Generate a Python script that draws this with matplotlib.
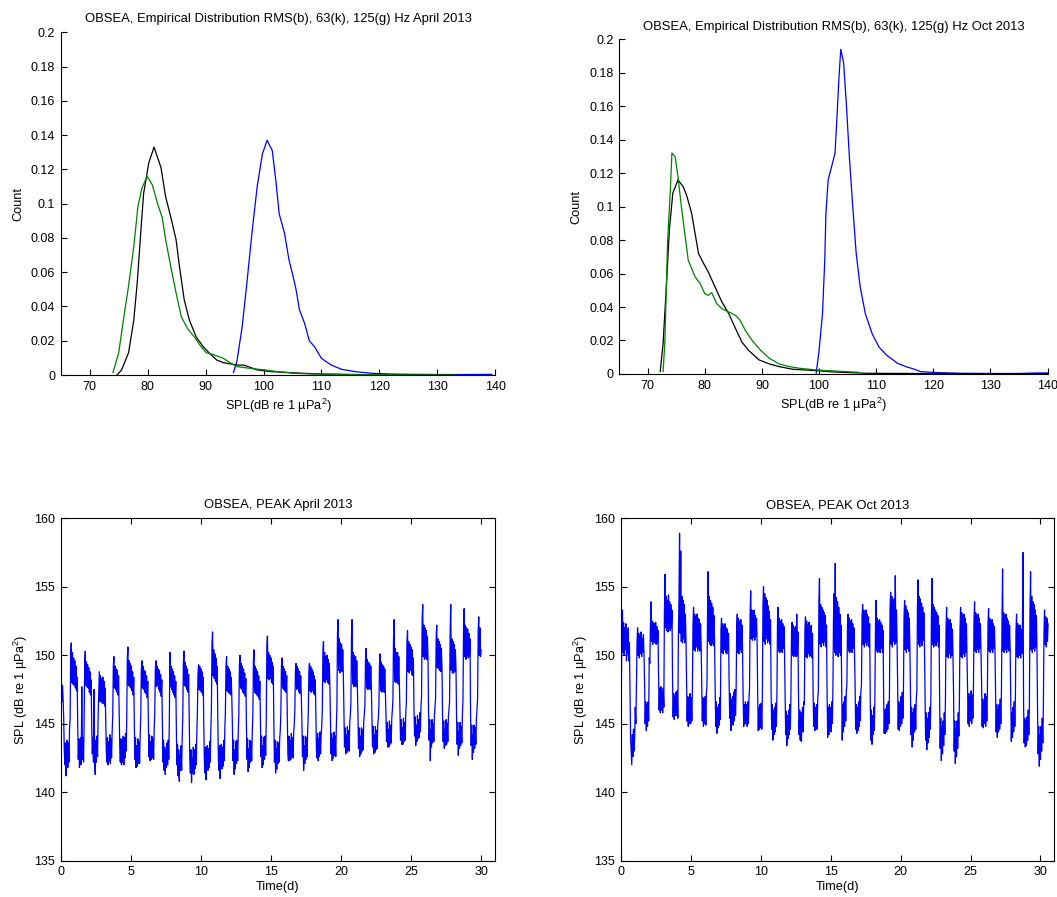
import numpy as np
import matplotlib
matplotlib.use("Agg")
import matplotlib.pyplot as plt
from matplotlib.ticker import FuncFormatter

plt.rcParams['font.family'] = ['Liberation Sans', 'DejaVu Sans']
plt.rcParams['font.size'] = 9
plt.rcParams['mathtext.fontset'] = 'custom'
plt.rcParams['mathtext.rm'] = 'Liberation Sans'
plt.rcParams['mathtext.it'] = 'Liberation Sans:italic'

# ---------------- Empirical distributions (April) ----------------
apr_63_x = [74.7, 75.5, 76.7, 77.6, 78.2, 78.8, 79.3, 80.2, 81.1, 82.3, 83.1, 84.0, 84.9, 85.5, 86.3, 87.2,
            88.4, 89.6, 90.7, 91.9, 93.1, 95.4, 96.6, 98.9, 101.2, 107.0, 110, 115, 120, 125, 133]
apr_63_y = [0, 0.003, 0.013, 0.032, 0.054, 0.083, 0.106, 0.124, 0.133, 0.121, 0.104, 0.092, 0.079, 0.063,
            0.044, 0.032, 0.022, 0.0165, 0.0126, 0.0088, 0.0072, 0.0058, 0.0058, 0.003, 0.002, 0.001, 0.0006,
            0.0003, 0.0002, 0.0001, 0.0]
apr_125_x = [74.0, 75.0, 75.8, 76.7, 77.6, 78.3, 79.0, 79.9, 80.8, 81.7, 82.5, 83.1, 84.0, 84.9, 85.8, 86.9,
             88.1, 89.0, 90.1, 91.3, 93.1, 94.2, 95.4, 97.7, 100.1, 102.4, 105.3, 108.2, 115, 120, 125, 133]
apr_125_y = [0.0014, 0.013, 0.032, 0.052, 0.075, 0.098, 0.109, 0.116, 0.111, 0.100, 0.092, 0.079, 0.063,
             0.048, 0.034, 0.027, 0.022, 0.0175, 0.013, 0.012, 0.0097, 0.0072, 0.0049, 0.0039, 0.003, 0.002,
             0.001, 0.0006, 0.0003, 0.0002, 0.0001, 0.0]
apr_rms_x = [94.8, 95.4, 96.3, 97.1, 98.0, 98.9, 99.8, 100.6, 101.5, 102.1, 102.7, 103.6, 104.4, 105.0, 105.6,
             106.2, 107.1, 107.9, 108.8, 110.0, 111.7, 113.5, 115.8, 118.7, 122, 126, 130, 135, 139.4]
apr_rms_y = [0.0014, 0.008, 0.028, 0.053, 0.083, 0.110, 0.129, 0.137, 0.131, 0.114, 0.094, 0.083, 0.067,
             0.059, 0.050, 0.038, 0.030, 0.020, 0.0165, 0.0097, 0.0058, 0.0033, 0.002, 0.001, 0.0006, 0.0004,
             0.0003, 0.0003, 0.0004]

# ---------------- Empirical distributions (October) ----------------
oct_63_x = [72.2, 72.7, 73.3, 73.8, 74.4, 75.3, 76.2, 76.8, 77.7, 78.3, 78.9, 79.8, 80.6, 81.8, 83.0, 84.2,
            85.4, 86.5, 87.7, 89.5, 91.3, 93.0, 95.4, 99.5, 102.5, 108.4, 115, 125, 140]
oct_63_y = [0.0014, 0.018, 0.054, 0.086, 0.108, 0.116, 0.112, 0.107, 0.096, 0.084, 0.072, 0.066, 0.061, 0.052,
            0.043, 0.036, 0.027, 0.019, 0.014, 0.0084, 0.006, 0.0044, 0.0028, 0.002, 0.0012, 0.0004, 0.0003,
            0.0002, 0.0001]
oct_125_x = [72.7, 73.0, 73.5, 74.0, 74.25, 74.8, 75.3, 75.9, 76.5, 77.1, 78.3, 79.2, 80.0, 80.6, 81.2, 82.1,
             83.0, 84.2, 85.4, 86.2, 87.1, 88.3, 89.8, 91.3, 93.0, 94.8, 96.6, 99.5, 102.5, 106.9]
oct_125_y = [0.0014, 0.018, 0.080, 0.112, 0.132, 0.130, 0.118, 0.100, 0.084, 0.068, 0.058, 0.054, 0.048, 0.047,
             0.0486, 0.042, 0.039, 0.037, 0.035, 0.032, 0.026, 0.020, 0.014, 0.0094, 0.006, 0.0044, 0.0034,
             0.0024, 0.0018, 0.001]
oct_rms_x = [99.5, 100.0, 100.6, 101.0, 101.2, 101.6, 102.2, 102.8, 103.2, 103.5, 103.8, 104.3, 104.8, 105.3,
             105.9, 106.5, 107.2, 108.1, 109.3, 110.5, 111.9, 112.8, 113.7, 115.2, 116.7, 117.8, 120.8, 125, 130,
             135, 138, 140]
oct_rms_y = [0.0004, 0.014, 0.036, 0.068, 0.096, 0.116, 0.124, 0.132, 0.158, 0.178, 0.194, 0.186, 0.160, 0.130,
             0.100, 0.072, 0.052, 0.036, 0.024, 0.016, 0.011, 0.0088, 0.0064, 0.0044, 0.0028, 0.0014, 0.0008,
             0.0004, 0.0003, 0.0003, 0.0006, 0.0006]

# ---------------- Hourly PEAK SPL, April 2013 (one row per day, hours 0..23) ----------------
april_peak_days = [
    [146.4, 147.9, 146.6, 147.8, 146.8, 145.4, 143.0, 142.0, 143.6, 141.2, 143.0, 143.8, 141.8, 143.6, 142.2, 144.6, 145.4, 150.2, 150.9, 148.0, 150.2, 147.9, 149.8, 147.8],
    [149.6, 147.6, 149.2, 147.4, 148.4, 145.0, 142.4, 143.9, 141.8, 143.4, 144.0, 142.0, 147.7, 142.4, 144.0, 142.2, 145.2, 149.6, 150.3, 147.8, 149.5, 147.7, 149.3, 147.6],
    [149.1, 147.3, 148.8, 147.1, 148.2, 144.8, 142.8, 144.0, 142.2, 147.5, 142.4, 141.3, 143.8, 142.2, 144.1, 142.6, 145.6, 147.2, 148.8, 146.6, 148.5, 146.7, 148.3, 146.5],
    [148.4, 146.5, 148.1, 146.3, 147.6, 145.2, 143.0, 142.2, 144.0, 142.0, 143.7, 142.3, 144.2, 142.1, 143.9, 142.5, 144.4, 145.6, 149.2, 149.9, 147.6, 149.2, 147.5, 149.0],
    [147.3, 148.9, 147.1, 148.5, 146.0, 143.3, 142.2, 143.9, 142.0, 143.8, 142.2, 144.1, 142.0, 144.0, 142.5, 144.3, 143.0, 145.4, 149.8, 150.6, 147.8, 149.6, 147.7, 149.4],
    [147.6, 149.2, 147.4, 148.8, 147.1, 148.4, 145.0, 142.4, 144.0, 141.8, 143.4, 141.9, 143.9, 142.1, 143.7, 142.1, 144.2, 145.6, 148.9, 149.6, 147.6, 149.2, 147.5, 148.9],
    [147.3, 148.8, 147.2, 148.5, 146.9, 148.1, 145.2, 142.6, 144.2, 142.3, 143.7, 142.4, 144.1, 142.5, 143.9, 142.4, 144.6, 145.8, 149.0, 149.6, 147.7, 149.2, 147.8, 149.0],
    [147.5, 148.9, 147.3, 148.6, 147.0, 148.2, 144.9, 142.2, 143.8, 141.6, 143.3, 141.3, 143.1, 141.8, 143.6, 142.0, 143.8, 142.4, 145.4, 150.2, 147.7, 149.2, 147.5, 149.0],
    [147.3, 148.8, 147.1, 148.5, 146.9, 148.1, 144.6, 142.0, 143.5, 141.2, 143.1, 140.8, 142.7, 141.6, 143.4, 141.6, 144.0, 145.6, 149.4, 150.3, 147.8, 149.5, 147.7, 149.2],
    [147.5, 149.0, 147.3, 148.6, 145.4, 142.4, 141.4, 143.1, 140.7, 142.5, 141.4, 143.3, 141.3, 143.1, 141.7, 143.5, 142.0, 144.2, 145.8, 148.6, 149.3, 147.5, 149.2, 147.4],
    [149.0, 147.3, 148.8, 147.1, 148.4, 144.8, 142.2, 141.4, 143.3, 140.9, 142.9, 143.4, 141.6, 143.2, 141.8, 143.7, 142.2, 144.4, 146.0, 150.8, 151.7, 148.5, 150.4, 148.3],
    [150.1, 148.1, 149.8, 147.9, 149.2, 145.2, 142.4, 141.6, 143.4, 141.0, 143.0, 143.5, 141.7, 143.3, 141.9, 143.8, 142.3, 144.6, 145.9, 149.2, 149.9, 147.4, 149.2, 147.3],
    [149.0, 147.2, 148.8, 147.1, 148.4, 146.9, 144.8, 142.3, 143.8, 141.3, 143.1, 141.7, 143.7, 142.1, 143.8, 142.3, 144.3, 145.7, 149.3, 150.0, 147.6, 149.4, 147.5, 149.2],
    [147.3, 149.0, 147.2, 148.7, 147.0, 148.3, 145.0, 142.4, 143.9, 141.5, 143.2, 141.8, 143.8, 142.2, 143.7, 142.3, 144.4, 145.6, 149.6, 150.4, 147.3, 149.2, 147.2, 149.0],
    [147.1, 148.8, 147.0, 148.5, 146.8, 148.1, 145.2, 142.6, 144.1, 141.8, 143.4, 142.0, 144.0, 142.4, 144.1, 142.7, 145.4, 150.6, 151.4, 148.3, 150.2, 148.2, 150.0, 148.3],
    [149.8, 148.0, 149.5, 147.9, 149.2, 145.0, 142.2, 143.8, 141.4, 143.2, 141.7, 143.7, 142.1, 143.6, 142.2, 143.9, 144.5, 145.8, 149.2, 149.8, 147.6, 149.2, 147.5, 149.0],
    [147.4, 148.8, 147.3, 148.5, 145.6, 142.8, 142.3, 144.1, 142.3, 143.8, 142.4, 144.3, 142.6, 144.0, 142.5, 144.4, 145.0, 146.0, 148.9, 149.4, 147.5, 149.2, 147.6, 149.0],
    [147.3, 148.8, 147.2, 148.5, 147.1, 145.2, 142.6, 144.1, 141.6, 143.4, 142.1, 144.1, 142.4, 144.0, 142.6, 144.6, 145.8, 148.8, 149.4, 147.4, 149.2, 147.3, 149.0, 147.4],
    [148.8, 147.2, 148.5, 147.1, 148.2, 145.4, 143.0, 142.5, 144.3, 142.3, 143.9, 142.6, 144.4, 142.8, 144.2, 144.8, 146.0, 150.2, 151.0, 148.1, 150.2, 148.0, 149.9, 148.2],
    [150.0, 148.0, 149.7, 147.9, 149.4, 147.7, 145.2, 142.8, 144.3, 142.3, 143.9, 142.5, 144.4, 142.7, 144.1, 142.6, 144.7, 146.2, 151.6, 152.6, 148.9, 151.2, 148.7, 150.9],
    [148.9, 150.8, 148.8, 150.4, 148.7, 146.0, 143.3, 144.7, 142.8, 144.2, 142.9, 144.8, 143.1, 144.5, 143.0, 145.1, 145.6, 146.6, 151.4, 152.6, 147.9, 150.2, 147.7, 150.0],
    [147.8, 149.9, 147.7, 149.6, 147.9, 145.8, 143.2, 144.7, 142.6, 144.1, 142.8, 144.7, 143.0, 144.6, 143.1, 145.2, 145.7, 146.4, 149.6, 150.5, 147.6, 149.7, 147.5, 149.5],
    [147.6, 149.4, 147.5, 149.2, 147.7, 145.6, 143.3, 144.8, 142.8, 144.2, 142.9, 144.8, 143.1, 144.5, 143.2, 145.0, 145.4, 146.4, 149.4, 150.1, 147.4, 149.5, 147.3, 149.3],
    [147.5, 149.2, 147.3, 149.0, 147.4, 145.8, 143.7, 145.1, 143.3, 144.6, 143.3, 145.2, 143.5, 144.9, 143.6, 145.4, 146.0, 146.8, 151.2, 152.6, 148.1, 150.5, 148.0, 150.2],
    [148.1, 150.2, 147.9, 149.9, 148.0, 146.0, 143.8, 145.3, 143.5, 144.7, 143.5, 145.4, 143.7, 145.1, 143.8, 145.8, 146.6, 151.0, 151.8, 148.8, 151.0, 148.7, 150.8, 148.9],
    [150.6, 148.6, 150.4, 148.5, 149.8, 146.2, 144.1, 145.5, 143.4, 144.9, 143.7, 145.6, 143.9, 145.3, 144.0, 145.8, 144.4, 146.2, 147.0, 152.6, 153.7, 149.9, 152.2, 149.7],
    [152.0, 149.8, 151.8, 149.7, 151.4, 149.9, 145.8, 143.8, 145.3, 142.3, 144.6, 143.3, 145.3, 143.6, 145.0, 143.7, 145.6, 146.2, 146.8, 151.2, 152.2, 149.1, 151.2, 149.0],
    [151.0, 148.9, 150.8, 148.8, 150.5, 149.1, 145.6, 143.7, 145.2, 143.2, 144.6, 143.4, 145.3, 143.5, 145.0, 143.7, 145.6, 146.0, 146.6, 151.8, 153.7, 148.9, 151.2, 148.7],
    [151.0, 148.7, 150.8, 148.8, 150.4, 149.0, 145.4, 143.5, 145.1, 142.7, 144.4, 143.2, 145.1, 143.4, 144.8, 143.6, 145.7, 146.8, 152.4, 153.4, 149.9, 152.2, 149.7, 152.0],
    [150.0, 151.9, 149.8, 151.6, 149.9, 151.2, 145.6, 143.4, 144.9, 142.4, 144.2, 142.9, 144.9, 143.2, 144.7, 143.5, 145.4, 146.0, 146.8, 151.8, 152.8, 150.0, 152.0, 149.9],
    [150.4],
]

# ---------------- Hourly PEAK SPL, October 2013 (one row per day, hours 0..23) ----------------
oct_peak_days = [
    [144.3, 147.0, 151.2, 153.3, 150.2, 152.4, 150.0, 152.0, 150.4, 152.3, 149.6, 151.8, 150.1, 152.0, 149.6, 150.9, 147.2, 144.0, 143.0, 142.0, 144.2, 142.6, 144.6, 143.0],
    [144.0, 146.2, 145.0, 147.6, 150.8, 152.0, 150.0, 151.6, 149.8, 151.4, 150.1, 151.7, 149.9, 151.2, 150.2, 151.5, 150.0, 148.0, 145.0, 146.6, 144.5, 146.4, 144.8, 146.6],
    [145.2, 149.8, 149.4, 152.0, 153.9, 151.0, 152.5, 150.8, 152.4, 151.0, 152.3, 150.9, 152.4, 150.8, 152.1, 150.9, 151.8, 148.4, 146.0, 147.6, 145.8, 147.7, 146.0, 147.3],
    [145.8, 147.6, 146.2, 153.0, 155.9, 152.0, 154.3, 151.8, 154.0, 151.7, 154.4, 152.0, 153.9, 151.8, 153.7, 152.0, 153.3, 148.0, 145.5, 147.2, 145.3, 147.0, 145.6, 147.3],
    [145.6, 147.4, 145.4, 151.5, 154.2, 158.9, 151.6, 157.6, 151.0, 154.3, 150.9, 154.0, 151.2, 153.7, 150.9, 153.0, 151.2, 148.0, 145.2, 147.0, 144.8, 146.9, 145.0, 147.2],
    [145.0, 146.9, 145.2, 147.6, 152.2, 153.5, 150.4, 153.0, 150.3, 152.8, 150.6, 153.0, 150.3, 152.7, 150.5, 152.6, 150.3, 152.3, 150.7, 148.0, 145.2, 146.9, 144.8, 146.8],
    [145.0, 147.0, 144.9, 147.2, 147.8, 153.0, 156.1, 151.0, 154.3, 150.8, 154.0, 150.7, 153.8, 150.9, 153.5, 150.7, 152.9, 151.0, 147.6, 144.8, 146.6, 144.3, 146.2, 144.7],
    [146.4, 144.9, 146.9, 145.3, 151.8, 152.7, 150.2, 152.3, 150.1, 152.1, 150.4, 152.3, 150.2, 152.0, 150.1, 151.9, 150.4, 151.6, 148.0, 145.4, 147.2, 144.5, 146.8, 145.0],
    [147.0, 144.9, 147.3, 145.2, 147.5, 145.6, 147.4, 152.0, 153.0, 150.2, 152.7, 150.1, 152.5, 150.4, 152.6, 150.2, 152.2, 150.5, 147.0, 144.8, 146.4, 145.0, 146.6, 145.0],
    [146.4, 144.8, 146.6, 145.0, 146.8, 147.6, 153.0, 154.7, 151.2, 153.3, 151.1, 153.1, 151.3, 153.3, 151.1, 152.9, 151.4, 152.7, 151.1, 147.0, 144.5, 146.2, 144.6, 146.4],
    [144.7, 146.5, 144.6, 147.0, 153.6, 155.0, 151.0, 154.5, 150.8, 154.2, 151.2, 154.0, 150.9, 153.6, 151.1, 153.2, 150.8, 152.6, 147.5, 144.6, 146.4, 143.8, 146.0, 144.2],
    [146.2, 144.4, 146.5, 144.8, 147.2, 152.6, 153.5, 150.3, 152.7, 150.2, 152.5, 150.4, 152.6, 150.2, 152.3, 150.5, 152.1, 150.3, 147.0, 144.2, 145.9, 143.4, 145.6, 143.9],
    [146.0, 144.2, 146.4, 144.6, 147.0, 151.6, 152.4, 150.0, 152.2, 149.9, 152.0, 150.1, 152.1, 149.9, 153.0, 150.0, 151.7, 147.0, 144.2, 146.0, 143.8, 145.8, 143.7, 145.6],
    [146.2, 144.4, 146.6, 146.4, 151.8, 152.8, 149.9, 152.5, 149.8, 152.2, 150.1, 152.4, 149.9, 152.1, 150.0, 152.2, 149.8, 151.6, 147.5, 144.8, 146.5, 144.5, 146.2, 144.6],
    [146.4, 144.6, 146.8, 147.4, 154.0, 155.6, 150.8, 153.7, 150.6, 153.5, 150.9, 153.3, 150.7, 153.1, 151.0, 152.9, 150.6, 152.2, 147.4, 144.0, 146.2, 144.2, 146.4, 144.6],
    [146.2, 144.4, 146.6, 145.0, 147.4, 152.6, 154.5, 150.2, 156.7, 150.0, 154.2, 150.4, 153.9, 149.9, 153.5, 150.2, 153.0, 150.0, 152.2, 148.0, 143.8, 146.4, 144.4, 146.6],
    [144.8, 147.0, 145.2, 147.4, 147.8, 152.2, 153.0, 150.3, 152.7, 150.2, 152.5, 150.4, 152.6, 150.2, 152.3, 150.5, 152.0, 150.3, 148.0, 144.6, 146.4, 144.3, 146.2, 144.5],
    [146.6, 144.8, 147.0, 145.2, 147.4, 147.8, 152.8, 153.7, 150.8, 153.3, 150.6, 153.1, 150.9, 153.3, 150.7, 153.0, 151.0, 152.8, 150.6, 152.3, 147.0, 143.8, 146.0, 143.5],
    [145.6, 144.2, 146.2, 144.5, 146.8, 152.0, 154.0, 150.3, 152.7, 150.2, 152.5, 150.4, 152.6, 150.2, 152.4, 150.5, 152.2, 150.2, 151.8, 147.0, 144.3, 146.0, 144.3, 146.1],
    [144.4, 146.4, 144.6, 146.6, 145.0, 147.2, 153.4, 154.6, 150.8, 154.3, 150.6, 153.9, 151.0, 154.1, 150.8, 155.8, 150.9, 153.3, 151.2, 148.0, 144.6, 146.6, 144.5, 146.4],
    [144.8, 147.0, 145.0, 147.3, 145.4, 147.4, 152.8, 154.0, 150.4, 153.6, 150.2, 153.3, 150.5, 153.1, 150.3, 152.7, 150.6, 147.5, 144.2, 146.2, 143.3, 145.8, 143.8, 146.1],
    [144.4, 146.4, 144.6, 146.8, 147.4, 153.4, 155.5, 150.8, 154.3, 150.6, 154.1, 151.0, 153.8, 150.7, 153.5, 151.1, 153.1, 150.8, 147.0, 143.8, 145.8, 143.1, 145.4, 143.6],
    [145.8, 144.0, 146.2, 144.6, 146.8, 153.0, 155.6, 150.8, 153.7, 150.6, 153.5, 150.9, 153.3, 150.7, 153.1, 151.0, 152.9, 150.6, 152.2, 147.0, 143.2, 145.4, 142.3, 144.8],
    [142.8, 145.2, 143.4, 145.8, 144.2, 146.8, 151.8, 153.5, 149.9, 152.7, 149.8, 152.5, 150.1, 152.6, 149.8, 152.3, 150.0, 151.9, 149.9, 147.0, 143.0, 145.2, 142.1, 144.6],
    [142.6, 145.2, 143.2, 145.8, 144.1, 146.8, 152.0, 153.5, 149.9, 153.1, 149.8, 152.9, 150.1, 153.0, 149.9, 152.7, 150.2, 152.3, 150.0, 148.0, 145.0, 147.2, 144.8, 147.0],
    [145.2, 147.4, 145.0, 147.1, 145.4, 147.4, 152.6, 153.9, 150.3, 153.1, 150.2, 152.9, 150.4, 153.0, 150.2, 152.7, 150.5, 152.3, 150.3, 148.0, 144.8, 146.8, 144.7, 146.6],
    [145.0, 147.2, 144.8, 147.0, 145.2, 147.4, 152.2, 153.4, 150.3, 152.7, 150.2, 152.5, 150.4, 152.6, 150.2, 152.3, 150.5, 152.1, 150.3, 147.5, 144.4, 146.4, 144.0, 146.0],
    [144.4, 146.4, 144.6, 146.8, 145.0, 147.2, 152.4, 156.3, 150.3, 153.1, 150.2, 152.9, 150.4, 153.0, 150.2, 152.7, 150.5, 152.5, 150.3, 152.2, 150.4, 147.0, 143.7, 145.8],
    [144.0, 146.2, 144.4, 146.6, 144.8, 147.0, 151.8, 153.0, 149.9, 152.3, 149.8, 152.1, 150.0, 152.2, 149.8, 151.9, 150.1, 151.7, 157.5, 146.5, 143.6, 145.4, 143.3, 145.2],
    [143.4, 145.5, 143.8, 146.0, 144.2, 146.4, 153.2, 156.1, 150.4, 154.3, 150.2, 153.9, 150.5, 153.7, 150.3, 153.3, 150.6, 152.9, 150.4, 146.0, 142.8, 144.8, 141.9, 144.2],
    [142.4, 144.8, 143.0, 145.4, 143.6, 146.4, 151.6, 153.3, 150.8, 152.8, 150.6, 152.7, 151.0, 152.3],
]

dist_xticks = [70, 80, 90, 100, 110, 120, 130, 140]
dist_yticks = [0, 0.02, 0.04, 0.06, 0.08, 0.1, 0.12, 0.14, 0.16, 0.18, 0.2]
time_xticks = [0, 5, 10, 15, 20, 25, 30]
time_yticks = [135, 140, 145, 150, 155, 160]

c_rms = (0, 0, 1)
c_63 = (0, 0, 0)
c_125 = (0, 0.5, 0)

fig = plt.figure(figsize=(10.57, 8.97), dpi=100)
fig.patch.set_facecolor('white')

ax1 = fig.add_axes([0.0575, 0.5819, 0.4111, 0.3821])
ax2 = fig.add_axes([0.5857, 0.5831, 0.4054, 0.3731])
ax3 = fig.add_axes([0.0575, 0.0404, 0.4109, 0.3819])
ax4 = fig.add_axes([0.5872, 0.0404, 0.4104, 0.3819])

fmt = FuncFormatter(lambda v, p: ('%g' % round(v, 4)))
lw = 0.9
title_fs = 9.4
label_fs = 9.2

for ax, series, month, tpad in [
    (ax1, [(apr_rms_x, apr_rms_y, c_rms), (apr_63_x, apr_63_y, c_63), (apr_125_x, apr_125_y, c_125)], 'April 2013', 7.6),
    (ax2, [(oct_rms_x, oct_rms_y, c_rms), (oct_63_x, oct_63_y, c_63), (oct_125_x, oct_125_y, c_125)], 'Oct 2013', 6.9),
]:
    for xs, ys, c in series:
        ax.plot(xs, ys, color=c, lw=lw)
    ax.set_xlim(65, 140)
    ax.set_ylim(0, 0.2)
    ax.set_xticks(dist_xticks)
    ax.set_yticks(dist_yticks)
    ax.yaxis.set_major_formatter(fmt)
    ax.spines['top'].set_visible(False)
    ax.spines['right'].set_visible(False)
    ax.tick_params(direction='in', length=4, width=0.8, pad=4, top=False, right=False, colors='black')
    ax.set_xlabel('SPL(dB re 1 µPa$^2$)', labelpad=3, fontsize=label_fs)
    ax.set_ylabel('Count', labelpad=5, fontsize=label_fs)
    ax.set_title('OBSEA, Empirical Distribution RMS(b), 63(k), 125(g) Hz ' + month, pad=tpad, fontsize=title_fs)

for ax, days, title in [
    (ax3, april_peak_days, 'OBSEA, PEAK April 2013'),
    (ax4, oct_peak_days, 'OBSEA, PEAK Oct 2013'),
]:
    vals = np.array([v for row in days for v in row])
    t = np.arange(len(vals)) / 24.0
    ax.plot(t, vals, color=c_rms, lw=lw)
    ax.set_xlim(0, 31)
    ax.set_ylim(135, 160)
    ax.set_xticks(time_xticks)
    ax.set_yticks(time_yticks)
    ax.tick_params(direction='in', length=4, width=0.8, pad=4, top=True, right=True)
    ax.set_xlabel('Time(d)', labelpad=2, fontsize=label_fs)
    ax.set_ylabel('SPL (dB re 1 µPa$^2$)', labelpad=3, fontsize=label_fs)
    ax.set_title(title, pad=7, fontsize=title_fs)

for ax in (ax1, ax2, ax3, ax4):
    for s in ax.spines.values():
        s.set_linewidth(0.8)

fig.savefig('out.png', dpi=100, facecolor='white')
